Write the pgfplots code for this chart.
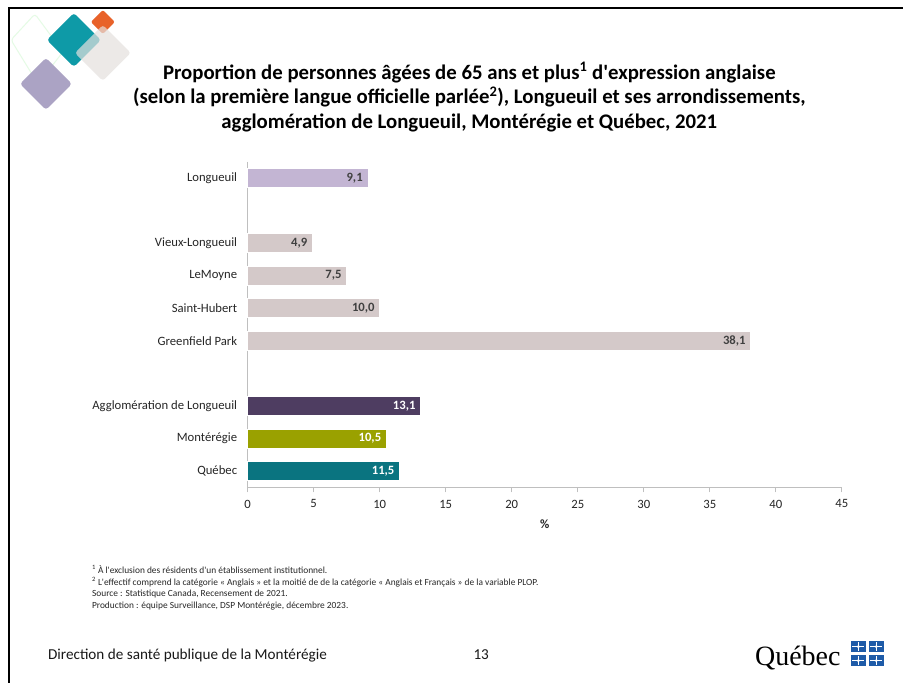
\documentclass[border=0pt]{standalone}
\usepackage{pgfplots}
\pgfplotsset{compat=1.18}
\usepackage{fontspec}
\setmainfont{Carlito}
\newfontfamily\qcfont{Liberation Serif}
\definecolor{cLong}{HTML}{C3B5D3}
\definecolor{cArr}{HTML}{D4C9C9}
\definecolor{cAgg}{HTML}{4E3D61}
\definecolor{cMont}{HTML}{9AA100}
\definecolor{cQc}{HTML}{0A7480}
\definecolor{cLab}{HTML}{404040}
\definecolor{qcblue}{HTML}{1E5BA8}
\begin{document}
\begin{tikzpicture}
% page
\path[fill=white] (0,0) rectangle (904pt,684pt);
\begin{scope}[x=1pt,y=-1pt,yshift=684pt]
\draw[line width=2.5pt,black] (904,8) -- (9,8) -- (9,684);
% decorative diamonds
\draw[color=black!15!green!10!white, line width=1pt, rounded corners=3pt] (35,14) -- (63,52) -- (38,84) -- (11,40) -- cycle;
\fill[color={rgb,255:red,171;green,163;blue,196}, rounded corners=3pt] (46,58) -- (72,84) -- (46,110) -- (20,84) -- cycle;
\fill[color={rgb,255:red,14;green,154;blue,167}, rounded corners=3pt] (74,13) -- (101,40) -- (74,67) -- (47,40) -- cycle;
\fill[color={rgb,255:red,232;green,98;blue,42}, rounded corners=2pt] (103,10) -- (115,22) -- (103,34) -- (91,22) -- cycle;
\fill[color={rgb,255:red,228;green,224;blue,222}, opacity=0.7, rounded corners=3pt] (103,25) -- (131,53) -- (103,81) -- (75,53) -- cycle;
% title
\node[align=center, font=\fontsize{20.8}{24.5}\selectfont\bfseries, text=black] at (470,97)
{Proportion de personnes âgées de 65 ans et plus\textsuperscript{1} d\textquotesingle expression anglaise\\
(selon la première langue officielle parlée\textsuperscript{2}), Longueuil et ses arrondissements,\\
agglomération de Longueuil, Montérégie et Québec, 2021};
% footnotes
\node[anchor=north west, align=left, font=\fontsize{9.4}{11.7}\selectfont, text=black!85, inner sep=0pt] at (92,566)
{\textsuperscript{1} À l\textquotesingle exclusion des résidents d\textquotesingle un établissement institutionnel.\\
\textsuperscript{2} L\textquotesingle effectif comprend la catégorie « Anglais » et la moitié de de la catégorie « Anglais et Français » de la variable PLOP.\\
Source : Statistique Canada, Recensement de 2021.\\
Production : équipe Surveillance, DSP Montérégie, décembre 2023.};
% footer
\node[anchor=base west, font=\fontsize{15.2}{17}\selectfont, text=black!90, inner sep=0pt] at (48,660) {Direction de santé publique de la Montérégie};
\node[anchor=base west, font=\fontsize{15.2}{17}\selectfont, text=black!90, inner sep=0pt] at (474,660) {13};
% Quebec logo
\node[anchor=base west, font=\qcfont\fontsize{28}{30}\selectfont, text=black, inner sep=0pt] at (756,666) {Québec};
\foreach \fx/\fy in {852/642, 870/642, 852/656, 870/656}{
  \fill[qcblue] (\fx,\fy) rectangle ++(15,11);
  \draw[white, line width=0.9pt] (\fx+7.5,\fy+1) -- (\fx+7.5,\fy+10);
  \draw[white, line width=0.9pt] (\fx+1.5,\fy+5.5) -- (\fx+13.5,\fy+5.5);
  \fill[white] (\fx+7.5,\fy+5.5) circle (1.6);
}
\end{scope}
\begin{axis}[
  at={(248pt,196pt)}, anchor=south west,
  scale only axis, width=595pt, height=326pt,
  xbar, bar width=19pt, bar shift=0pt,
  xmin=0, xmax=45, ymin=-0.5, ymax=9.5, y dir=reverse,
  xtick={0,5,...,45},
  ytick={0,2,3,4,5,7,8,9},
  yticklabels={Longueuil,Vieux-Longueuil,LeMoyne,Saint-Hubert,Greenfield Park,Agglomération de Longueuil,Montérégie,Québec},
  axis x line*=bottom, axis y line*=left,
  axis line style={draw=black!25, line width=0.8pt, -},
  x tick style={draw=black!25, line width=0.8pt},
  y tick style={draw=none},
  tick align=outside, major tick length=5pt,
  /pgf/number format/assume math mode=true,
  ticklabel style={font=\fontsize{12.7}{15}\selectfont, text=black!85},
  yticklabel style={xshift=-2pt},
  xticklabel style={yshift=-4pt},
  xlabel={\textbf{\%}},
  xlabel style={font=\fontsize{12.7}{15}\selectfont, text=black!85, yshift=-5pt},
  point meta=x,
  nodes near coords,
  nodes near coords style={anchor=east, xshift=-1.5pt, font=\fontsize{12.7}{15}\selectfont\bfseries,
    /pgf/number format/fixed, /pgf/number format/fixed zerofill, /pgf/number format/precision=1, /pgf/number format/use comma},
  clip=false,
]
\addplot[fill=cLong, draw=white, line width=0.6pt, nodes near coords style={text=cLab}] coordinates {(9.1,0)};
\addplot[fill=cArr, draw=white, line width=0.6pt, nodes near coords style={text=cLab}] coordinates {(4.9,2) (7.5,3) (10.0,4) (38.1,5)};
\addplot[fill=cAgg, draw=white, line width=0.6pt, nodes near coords style={text=white}] coordinates {(13.1,7)};
\addplot[fill=cMont, draw=white, line width=0.6pt, nodes near coords style={text=white}] coordinates {(10.5,8)};
\addplot[fill=cQc, draw=white, line width=0.6pt, nodes near coords style={text=white}] coordinates {(11.5,9)};
\end{axis}
\end{tikzpicture}
\end{document}
